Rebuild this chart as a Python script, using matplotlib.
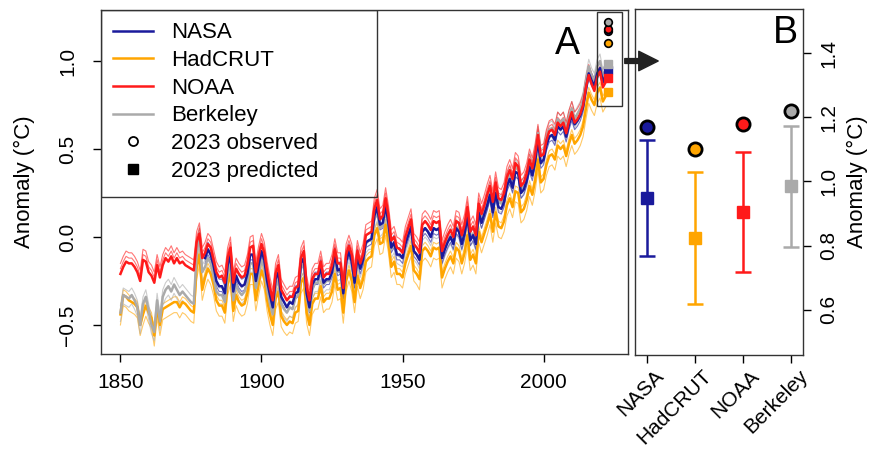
import numpy as np
import matplotlib
matplotlib.use("Agg")
import matplotlib.pyplot as plt
import matplotlib.transforms as mtransforms
from matplotlib.patches import Rectangle, FancyArrowPatch
from matplotlib.lines import Line2D

plt.rcParams['font.family'] = ['Liberation Sans', 'DejaVu Sans']

# annual anomalies (deg C)
years = np.arange(1850, 2023)
nasa_years = np.arange(1880, 2023)

nasa = [
    -0.12, -0.07, -0.10, -0.16, -0.25, -0.28, -0.28, -0.32, -0.16, -0.10,
    -0.31, -0.22, -0.26, -0.28, -0.27, -0.21, -0.10, -0.10, -0.25, -0.16,
    -0.08, -0.13, -0.25, -0.33, -0.40, -0.24, -0.20, -0.34, -0.37, -0.40,
    -0.37, -0.38, -0.32, -0.31, -0.15, -0.12, -0.32, -0.40, -0.27, -0.24,
    -0.24, -0.17, -0.26, -0.24, -0.24, -0.20, -0.10, -0.19, -0.18, -0.32,
    -0.14, -0.08, -0.14, -0.26, -0.11, -0.18, -0.13, -0.03, -0.02, -0.01,
    0.12, 0.17, 0.07, 0.08, 0.18, 0.08, -0.06, -0.03, -0.10, -0.10,
    -0.12, -0.04, 0.01, 0.06, -0.08, -0.10, -0.13, 0.03, 0.05, 0.03,
    0.00, 0.05, 0.04, 0.05, -0.12, -0.07, -0.03, 0.00, -0.04, 0.05,
    0.03, -0.04, 0.02, 0.12, -0.02, 0.01, -0.04, 0.14, 0.08, 0.13,
    0.18, 0.24, 0.14, 0.25, 0.17, 0.16, 0.20, 0.29, 0.33, 0.28,
    0.37, 0.36, 0.25, 0.27, 0.32, 0.40, 0.35, 0.43, 0.55, 0.42,
    0.44, 0.52, 0.57, 0.58, 0.55, 0.63, 0.61, 0.63, 0.57, 0.64,
    0.69, 0.64, 0.66, 0.69, 0.74, 0.84, 0.93, 0.89, 0.86, 0.93,
    0.96, 0.88, 0.92,
]

noaa = [
    -0.21, -0.17, -0.14, -0.15, -0.15, -0.17, -0.20, -0.25, -0.13, -0.14,
    -0.20, -0.22, -0.26, -0.16, -0.23, -0.16, -0.12, -0.14, -0.11, -0.15,
    -0.12, -0.15, -0.14, -0.16, -0.17, -0.18, -0.19, -0.03, 0.02, -0.12,
    -0.09, -0.04, -0.06, -0.13, -0.20, -0.23, -0.22, -0.26, -0.12, -0.06,
    -0.26, -0.18, -0.21, -0.23, -0.22, -0.16, -0.06, -0.05, -0.20, -0.11,
    -0.04, -0.09, -0.20, -0.29, -0.36, -0.21, -0.16, -0.30, -0.33, -0.36,
    -0.34, -0.34, -0.29, -0.28, -0.12, -0.08, -0.28, -0.36, -0.24, -0.21,
    -0.21, -0.14, -0.23, -0.21, -0.21, -0.16, -0.07, -0.15, -0.15, -0.29,
    -0.10, -0.05, -0.10, -0.22, -0.08, -0.15, -0.10, 0.01, 0.02, 0.03,
    0.16, 0.21, 0.10, 0.12, 0.22, 0.12, -0.02, 0.00, -0.06, -0.07,
    -0.09, 0.00, 0.05, 0.10, -0.04, -0.06, -0.09, 0.07, 0.09, 0.07,
    0.04, 0.09, 0.08, 0.09, -0.08, -0.03, 0.01, 0.04, 0.00, 0.09,
    0.08, 0.01, 0.07, 0.17, 0.03, 0.06, 0.01, 0.19, 0.13, 0.18,
    0.24, 0.29, 0.20, 0.31, 0.22, 0.21, 0.25, 0.34, 0.38, 0.33,
    0.42, 0.40, 0.29, 0.31, 0.36, 0.44, 0.39, 0.47, 0.58, 0.46,
    0.47, 0.55, 0.60, 0.61, 0.58, 0.65, 0.63, 0.65, 0.59, 0.66,
    0.71, 0.65, 0.67, 0.70, 0.75, 0.85, 0.92, 0.87, 0.83, 0.91,
    0.94, 0.85, 0.88,
]

berkeley = [
    -0.43, -0.33, -0.34, -0.35, -0.33, -0.36, -0.40, -0.50, -0.38, -0.34,
    -0.42, -0.50, -0.54, -0.36, -0.48, -0.34, -0.30, -0.28, -0.31, -0.27,
    -0.30, -0.33, -0.31, -0.33, -0.35, -0.37, -0.38, -0.10, 0.02, -0.20,
    -0.17, -0.12, -0.15, -0.22, -0.31, -0.33, -0.33, -0.37, -0.21, -0.15,
    -0.36, -0.27, -0.31, -0.33, -0.31, -0.26, -0.15, -0.15, -0.29, -0.21,
    -0.13, -0.18, -0.30, -0.38, -0.44, -0.29, -0.24, -0.38, -0.41, -0.43,
    -0.40, -0.41, -0.35, -0.33, -0.18, -0.15, -0.34, -0.42, -0.30, -0.26,
    -0.26, -0.19, -0.27, -0.25, -0.25, -0.21, -0.11, -0.20, -0.19, -0.32,
    -0.14, -0.09, -0.14, -0.26, -0.12, -0.18, -0.13, -0.04, -0.02, -0.02,
    0.10, 0.14, 0.05, 0.07, 0.15, 0.06, -0.07, -0.04, -0.10, -0.11,
    -0.12, -0.04, 0.01, 0.05, -0.08, -0.10, -0.13, 0.03, 0.05, 0.03,
    0.00, 0.05, 0.04, 0.05, -0.11, -0.06, -0.02, 0.01, -0.03, 0.06,
    0.04, -0.03, 0.03, 0.13, 0.00, 0.02, -0.03, 0.15, 0.10, 0.15,
    0.21, 0.27, 0.17, 0.28, 0.20, 0.19, 0.23, 0.32, 0.36, 0.31,
    0.40, 0.38, 0.27, 0.30, 0.35, 0.44, 0.39, 0.47, 0.59, 0.46,
    0.47, 0.56, 0.61, 0.62, 0.58, 0.67, 0.65, 0.67, 0.61, 0.68,
    0.73, 0.67, 0.70, 0.73, 0.78, 0.88, 0.97, 0.92, 0.89, 0.97,
    1.00, 0.91, 0.95,
]

hadcrut = [
    -0.44, -0.33, -0.34, -0.36, -0.37, -0.38, -0.40, -0.50, -0.44, -0.39,
    -0.43, -0.46, -0.56, -0.40, -0.50, -0.41, -0.40, -0.39, -0.38, -0.37,
    -0.37, -0.40, -0.37, -0.38, -0.40, -0.42, -0.43, -0.18, -0.10, -0.30,
    -0.23, -0.18, -0.21, -0.27, -0.36, -0.39, -0.39, -0.43, -0.27, -0.21,
    -0.42, -0.33, -0.37, -0.39, -0.38, -0.32, -0.21, -0.21, -0.36, -0.27,
    -0.19, -0.24, -0.36, -0.44, -0.50, -0.35, -0.31, -0.45, -0.48, -0.50,
    -0.48, -0.49, -0.43, -0.42, -0.26, -0.23, -0.43, -0.50, -0.38, -0.35,
    -0.35, -0.28, -0.37, -0.35, -0.35, -0.31, -0.21, -0.30, -0.29, -0.43,
    -0.25, -0.19, -0.25, -0.37, -0.22, -0.29, -0.24, -0.14, -0.12, -0.11,
    0.01, 0.05, -0.04, -0.03, 0.07, -0.03, -0.17, -0.14, -0.21, -0.21,
    -0.23, -0.15, -0.10, -0.05, -0.19, -0.21, -0.24, -0.08, -0.06, -0.08,
    -0.11, -0.06, -0.07, -0.06, -0.23, -0.18, -0.14, -0.11, -0.15, -0.06,
    -0.08, -0.15, -0.09, 0.01, -0.13, -0.10, -0.15, 0.03, -0.03, 0.02,
    0.07, 0.13, 0.03, 0.14, 0.06, 0.05, 0.09, 0.18, 0.22, 0.17,
    0.26, 0.25, 0.14, 0.16, 0.21, 0.29, 0.24, 0.32, 0.44, 0.31,
    0.33, 0.41, 0.46, 0.47, 0.44, 0.52, 0.50, 0.52, 0.46, 0.53,
    0.58, 0.53, 0.55, 0.58, 0.63, 0.73, 0.82, 0.78, 0.75, 0.82,
    0.85, 0.77, 0.80,
]

# spread of the thin companion lines around each thick line
nasa_spread = [-0.03, 0.04]
noaa_spread = [0.03, 0.06]
berkeley_spread = [-0.05, 0.04]
hadcrut_spread = [-0.06, 0.03]

# 2023: observed value and prediction with interval
datasets = ["NASA", "HadCRUT", "NOAA", "Berkeley"]
colors = ["#1a1a9c", "#ffa500", "#ff1a1a", "#aaaaaa"]
obs_2023 = [1.17, 1.10, 1.18, 1.22]
pred_2023 = [0.947, 0.825, 0.905, 0.985]
pred_lo = [0.766, 0.619, 0.719, 0.797]
pred_hi = [1.128, 1.028, 1.091, 1.174]

fig = plt.figure(figsize=(8.78, 4.49), dpi=100)
ax = fig.add_axes([0.1150, 0.2116, 0.6002, 0.7661])
ax2 = fig.add_axes([0.7232, 0.2094, 0.1913, 0.7706])

series = {
    "NASA": (nasa_years, nasa, nasa_spread),
    "HadCRUT": (years, hadcrut, hadcrut_spread),
    "NOAA": (years, noaa, noaa_spread),
    "Berkeley": (years, berkeley, berkeley_spread),
}
col = dict(zip(datasets, colors))

# thin lines first, then the thick ones
for name in ["HadCRUT", "Berkeley", "NASA", "NOAA"]:
    x, y, sp = series[name]
    for off in sp:
        ax.plot(x, np.array(y) + off, color=col[name], lw=0.8, alpha=0.6)
for name in ["HadCRUT", "Berkeley", "NASA", "NOAA"]:
    x, y, sp = series[name]
    ax.plot(x, y, color=col[name], lw=1.8)

for i, name in enumerate(datasets):
    ax.plot(2023, pred_2023[i], 's', color=col[name], ms=6, zorder=5)
for i in range(4):
    ax.plot(2023, obs_2023[i], 'o', mfc=colors[i], mec='black', mew=1.2, ms=5.5, zorder=6)

ax.add_patch(Rectangle((2018.8, 0.745), 8.9, 0.535, fill=False, lw=1, ec='#333333', zorder=7))

ax.set_xlim(1843.1, 2029.9)
ax.set_ylim(-0.665, 1.29)
ax.set_xticks([1850, 1900, 1950, 2000])
ax.set_yticks([-0.5, 0.0, 0.5, 1.0])
ax.set_yticklabels(["\u22120.5", "0.0", "0.5", "1.0"], rotation=90, va='center')
ax.tick_params(length=6, width=1, labelsize=15, pad=8)
ax.tick_params(axis='y', pad=11)
ax.set_ylabel("Anomaly (\u00b0C)", fontsize=16, labelpad=17)
for s in ax.spines.values():
    s.set_linewidth(1)
    s.set_color('#333333')
ax.text(0.885, 0.9, "A", transform=ax.transAxes, fontsize=27, ha='center', va='center')

# legend with square box
ax.add_patch(Rectangle((0, 0.456), 0.524, 0.544, transform=ax.transAxes,
                       fill=False, lw=1, ec='#333333', zorder=8))
handles = [Line2D([], [], color=c, lw=1.8) for c in colors]
handles += [Line2D([], [], ls='none', marker='o', mfc='white', mec='black', mew=1.3, ms=6.5),
            Line2D([], [], ls='none', marker='s', color='black', ms=6.5)]
labels = datasets + ["2023 observed", "2023 predicted"]
leg = ax.legend(handles, labels, loc='upper left', bbox_to_anchor=(0.006, 0.99),
                frameon=False, fontsize=16, handlelength=1.8, handletextpad=0.8,
                labelspacing=0.3, borderaxespad=0.0, borderpad=0.4)

# panel B
xpos = np.arange(1, 5)
for i in range(4):
    ax2.errorbar(xpos[i], pred_2023[i],
                 yerr=[[pred_2023[i] - pred_lo[i]], [pred_hi[i] - pred_2023[i]]],
                 fmt='s', color=colors[i], ms=8, lw=1.8, capsize=5.5, capthick=1.8)
    ax2.plot(xpos[i], obs_2023[i], 'o', mfc=colors[i], mec='black', mew=2, ms=9.5)

ax2.set_xlim(0.75, 4.25)
ax2.set_ylim(0.459, 1.5375)
ax2.set_xticks(xpos)
ax2.set_xticklabels(datasets, rotation=45, ha='right', va='top', rotation_mode='anchor')
ax2.tick_params(axis='x', length=6, width=1, labelsize=15, pad=2)
shift = mtransforms.ScaledTranslation(7 / 100, 0, fig.dpi_scale_trans)
for lab in ax2.get_xticklabels():
    lab.set_transform(lab.get_transform() + shift)
ax2.yaxis.tick_right()
ax2.yaxis.set_label_position('right')
ax2.set_yticks([0.6, 0.8, 1.0, 1.2, 1.4])
ax2.set_yticklabels(["0.6", "0.8", "1.0", "1.2", "1.4"], rotation=90, va='center')
ax2.tick_params(axis='y', length=6, width=1, labelsize=15, pad=6)
ax2.set_ylabel("Anomaly (\u00b0C)", fontsize=16, labelpad=6)
for s in ax2.spines.values():
    s.set_linewidth(1)
    s.set_color('#333333')
ax2.text(0.893, 0.93, "B", transform=ax2.transAxes, fontsize=27, ha='center', va='center')

# arrow from the inset box over to panel B
arrow = FancyArrowPatch((622 / 878, 1 - 61 / 449), (661 / 878, 1 - 61 / 449),
                        transform=fig.transFigure,
                        arrowstyle='simple,head_length=1.0,head_width=1.0,tail_width=0.25',
                        mutation_scale=14, color='#222222', zorder=10)
fig.add_artist(arrow)

fig.savefig("out.png", dpi=100)
